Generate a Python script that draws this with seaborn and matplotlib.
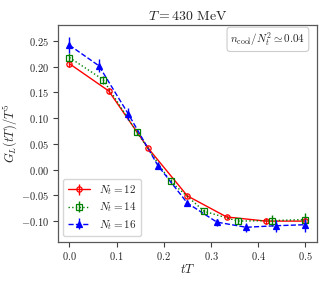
import numpy as np
import pandas as pd
import matplotlib
matplotlib.use("Agg")
import matplotlib.pyplot as plt
import seaborn as sns
from matplotlib.ticker import FuncFormatter, MultipleLocator

# ---- data ----
x12 = [0.0, 1/12, 2/12, 3/12, 4/12, 5/12, 6/12]
y12 = [0.206, 0.153, 0.042, -0.051, -0.092, -0.100, -0.100]
e12 = [0.007, 0.006, 0.004, 0.004, 0.004, 0.006, 0.006]

x14 = [0.0, 1/14, 2/14, 3/14, 4/14, 5/14, 6/14, 7/14]
y14 = [0.218, 0.175, 0.073, -0.023, -0.081, -0.100, -0.099, -0.097]
e14 = [0.008, 0.008, 0.005, 0.004, 0.005, 0.006, 0.010, 0.012]

x16 = [0.0, 1/16, 2/16, 3/16, 4/16, 5/16, 6/16, 7/16, 8/16]
y16 = [0.242, 0.202, 0.108, 0.008, -0.065, -0.102, -0.112, -0.109, -0.107]
e16 = [0.016, 0.013, 0.012, 0.006, 0.006, 0.007, 0.009, 0.012, 0.015]

labels = [r"$N_t = 12$", r"$N_t = 14$", r"$N_t = 16$"]
colors = ["red", "green", "blue"]
markers = ["o", "s", "^"]
styles = ["-", ":", "--"]
fills = ["none", "none", "blue"]

sns.set_style("ticks")
plt.rcParams["mathtext.fontset"] = "cm"
plt.rcParams["font.family"] = ["DejaVu Serif"]

df = pd.concat([
    pd.DataFrame({"tT": x, "G": y, "err": e, "series": lab})
    for x, y, e, lab in zip([x12, x14, x16], [y12, y14, y16], [e12, e14, e16], labels)
], ignore_index=True)

fig = plt.figure(figsize=(3.29, 2.82), dpi=100)
ax = fig.add_axes([0.175, 0.143, 0.789, 0.768])

for lab, c, m, ls, fc in zip(labels, colors, markers, styles, fills):
    sub = df[df["series"] == lab]
    sns.lineplot(data=sub, x="tT", y="G", ax=ax, color=c, linestyle=ls,
                 linewidth=1.0, legend=False)
    ax.errorbar(sub["tT"], sub["G"], yerr=sub["err"], fmt=m, color=c,
                mfc=fc, mec=c, ms=3.8, mew=0.9, elinewidth=1.0, capsize=0,
                linestyle="None")

ax.set_xlim(-0.025, 0.525)
ax.set_ylim(-0.140, 0.281)
ax.xaxis.set_major_locator(MultipleLocator(0.1))
ax.yaxis.set_major_locator(MultipleLocator(0.05))
ax.xaxis.set_major_formatter(FuncFormatter(lambda v, p: f"${v:.1f}$"))
ax.yaxis.set_major_formatter(FuncFormatter(lambda v, p: f"${v:.2f}$"))
ax.tick_params(labelsize=7.5, length=3.5, width=0.8, color="0.25", pad=2.5)
for s in ax.spines.values():
    s.set_color("0.35")
    s.set_linewidth(0.9)

ax.set_xlabel(r"$tT$", fontsize=9, labelpad=1)
ax.set_ylabel(r"$G_L(tT)/T^5$", fontsize=9)
ax.yaxis.set_label_coords(-0.145, 0.5)
ax.set_title(r"$T = 430~\mathrm{MeV}$", fontsize=10, pad=4)

# legend with errorbar-style handles
proxies = []
for c, m, ls, fc in zip(colors, markers, styles, fills):
    proxies.append(ax.errorbar([np.nan], [np.nan], yerr=[0.01], fmt=m, color=c, mfc=fc,
                               mec=c, ms=3.8, mew=0.9, elinewidth=1.0, linestyle=ls,
                               linewidth=1.0))
ax.legend(proxies, labels, loc="lower left", fontsize=8, frameon=True,
          borderpad=0.4, labelspacing=0.3, handlelength=2.0, handletextpad=0.8)

ax.text(0.955, 0.975, r"$n_{\rm cool}/N_t^2 \simeq 0.04$", transform=ax.transAxes,
        ha="right", va="top", fontsize=8,
        bbox=dict(boxstyle="round,pad=0.3", fc="white", ec="0.8", lw=0.8))

fig.savefig("out.png", dpi=100)
